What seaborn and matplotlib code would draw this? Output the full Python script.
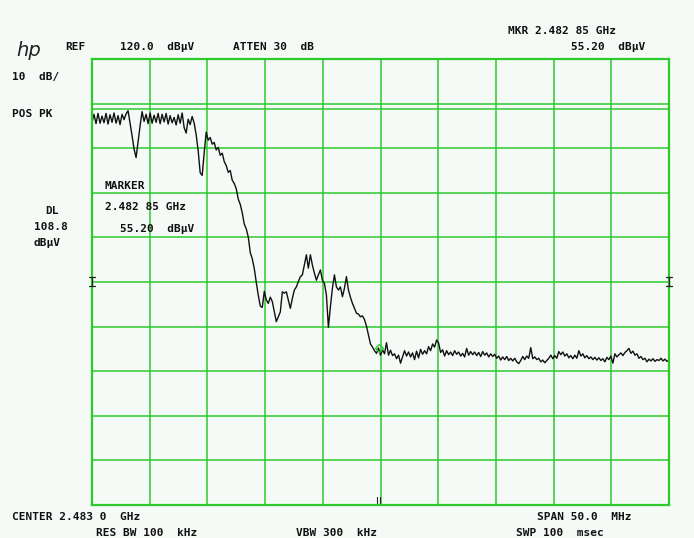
import numpy as np
import pandas as pd
import matplotlib
matplotlib.use("Agg")
import matplotlib.pyplot as plt
import matplotlib.transforms as mtransforms
import seaborn as sns

# ---- instrument settings ----
center_ghz = 2.4830
span_mhz = 50.0
ref_level = 120.0          # dBuV, top of screen
db_per_div = 10.0
display_line = 108.8       # dBuV
marker_freq_ghz = 2.48285
marker_level = 55.20

# ---- swept trace (dBuV), one value per sweep point ----
passband = [105.8, 107.6, 105.5, 107.8, 105.6, 107.2, 105.7, 107.8, 105.4, 107.5,
            105.8, 107.9, 105.6, 107.3, 105.3, 107.6, 106.4, 107.7, 108.4, 105.6,
            102.8, 99.8, 97.9, 101.5, 105.0, 108.2,
            106.0, 107.6, 105.5, 107.9, 105.6, 107.4, 105.8, 107.8, 105.5, 107.6,
            105.9, 107.8, 105.4, 107.3, 105.7, 106.9, 105.2, 107.5, 105.6, 107.9,
            104.6, 103.4, 106.5, 105.3, 107.1, 105.6,
            103.0, 99.4, 94.5, 93.9, 99.0, 103.6]
rolloff = [101.8, 102.4, 100.9, 101.3, 99.6, 100.2, 98.4, 98.9, 97.0, 96.1,
           94.6, 95.0, 92.8, 92.1, 90.9, 88.6, 87.4, 85.5, 83.0, 81.9,
           80.1, 76.6, 75.2, 73.0, 69.9, 67.0, 64.6, 64.3]
shoulder = [67.9, 66.0, 65.2, 66.6, 65.6, 63.3, 61.1, 62.2, 63.3, 67.8,
            67.5, 67.8, 66.0, 64.1, 66.3, 68.2, 68.9, 70.1, 71.2, 71.6,
            73.8, 76.1, 73.1, 76.1, 73.8, 72.0, 70.4, 71.6, 72.7, 70.4,
            69.7, 67.1, 59.8, 64.5, 68.6, 71.6, 68.9, 68.2, 68.9, 66.7,
            68.6, 71.2, 68.2, 66.6, 65.2, 64.1, 63.0, 62.8, 62.2, 62.4,
            61.6, 60.1, 58.1, 56.1, 55.4, 54.6, 54.0, 55.2, 53.6]
floor_low = [54.8, 53.9, 56.4, 53.6, 54.7, 53.5, 53.9, 52.8, 53.6, 51.8,
             53.2, 54.6, 53.4, 54.3, 53.2, 54.1, 52.6, 54.5, 53.0, 54.9,
             53.8, 54.6, 53.9, 55.5, 54.6, 56.1, 55.4, 57.0, 56.3, 54.2,
             54.8, 53.4, 54.6, 53.7, 54.3, 53.5, 54.6, 53.8, 54.3, 53.4,
             54.0, 53.2, 55.1, 53.6, 54.4, 53.7, 54.3, 53.5, 54.2, 53.3,
             54.4, 53.6, 54.1, 53.2, 53.9, 53.3, 53.8, 52.9, 53.4, 52.5,
             53.2, 52.6, 53.3, 52.4, 52.9, 52.3, 52.9]
floor_high = [52.1, 51.7, 52.4, 53.3, 52.6, 53.4, 52.9, 55.3, 52.8, 53.2,
              52.6, 52.9, 52.1, 52.5, 51.9, 52.4, 52.9, 53.6, 52.8, 53.5,
              52.9, 54.4, 53.7, 54.3, 53.4, 53.9, 53.0, 53.5, 52.8, 53.6,
              52.9, 54.6, 53.4, 53.9, 53.0, 53.5, 52.8, 53.2, 52.6, 53.1,
              52.5, 53.0, 52.4, 52.8, 52.1, 53.1, 52.6, 53.4, 51.8, 53.9,
              53.2, 53.7, 54.1, 53.5, 54.2, 54.6, 55.1, 54.0, 54.5, 53.6,
              53.9, 52.9, 53.3, 52.6, 52.9, 52.1, 52.7, 52.3, 52.8, 52.2,
              52.6, 52.4, 52.9, 52.3, 52.7, 52.2, 52.5]

trace = np.array(passband + rolloff + shoulder + floor_low + floor_high)
start_ghz = center_ghz - span_mhz / 2000.0
stop_ghz = center_ghz + span_mhz / 2000.0
freq_ghz = np.linspace(start_ghz, stop_ghz, len(trace))
df = pd.DataFrame({"freq": freq_ghz, "level": trace})

# ---- figure ----
W, H = 694, 538
GREEN = "#2ccb2c"
BG = "#f6faf6"

sns.set_style("white")
plt.rcParams["font.family"] = ["DejaVu Sans Mono", "DejaVu Sans"]

fig = plt.figure(figsize=(W / 100, H / 100), dpi=100, facecolor=BG)
ax = fig.add_axes([92 / W, 1 - 505 / H, 577 / W, 446 / H], facecolor=BG)

sns.lineplot(data=df, x="freq", y="level", ax=ax, color="#111111",
             linewidth=1.0, estimator=None, sort=False)

bottom = ref_level - 10 * db_per_div
ax.set_xlim(start_ghz, stop_ghz)
ax.set_ylim(bottom, ref_level)
ax.set_xticks(np.linspace(start_ghz, stop_ghz, 11))
ax.set_yticks(np.arange(bottom, ref_level + 1, db_per_div))
ax.tick_params(length=0, labelbottom=False, labelleft=False)
ax.set_xlabel("")
ax.set_ylabel("")
ax.grid(True, color=GREEN, linewidth=1.1)
ax.set_axisbelow(True)
for sp in ax.spines.values():
    sp.set_color(GREEN)
    sp.set_linewidth(1.6)

# display line
ax.axhline(display_line, color=GREEN, linewidth=1.1, zorder=1)

# marker
ax.plot([marker_freq_ghz], [marker_level], marker="D", ms=4, mfc="none",
        mec=GREEN, mew=1.0, zorder=5)

# threshold indicators on both screen edges and marker tick at bottom
blend = mtransforms.blended_transform_factory(ax.transAxes, ax.transData)
for xa in (0.0, 1.0):
    ax.plot([xa, xa], [69.0, 71.2], color="#222222", lw=0.9,
            transform=blend, clip_on=False, zorder=6)
    for yy in (69.0, 71.2):
        ax.plot([xa - 0.005, xa + 0.005], [yy, yy], color="#222222", lw=0.9,
                transform=blend, clip_on=False, zorder=6)
blend_x = mtransforms.blended_transform_factory(ax.transData, ax.transAxes)
for dx in (-0.00012, 0.00012):
    ax.plot([marker_freq_ghz + dx] * 2, [0.005, 0.018], color="#222222", lw=0.8,
            transform=blend_x, zorder=6)

# ---- annotation text ----
FS = 8.0
def label(x, y, s, **kw):
    fig.text(x / W, 1 - y / H, s, fontsize=FS, fontweight="bold",
             ha="left", va="center", color="#111111", **kw)

fig.text(29 / W, 1 - 50 / H, "hp", fontsize=14, fontstyle="italic",
         family="DejaVu Sans", fontweight="light", ha="center", va="center",
         color="#222222")
label(65, 47, "REF")
label(120, 47, "120.0  dB\u03bcV")
label(233, 47, "ATTEN 30  dB")
label(508, 31, "MKR 2.482 85 GHz")
label(571, 47, "55.20  dB\u03bcV")
label(12, 77, "10  dB/")
label(12, 114, "POS PK")
label(105, 186, "MARKER")
label(105, 207, "2.482 85 GHz")
label(120, 229, "55.20  dB\u03bcV")
label(45, 211, "DL")
label(34, 227, "108.8")
label(34, 243, "dB\u03bcV")
label(12, 517, "CENTER 2.483 0  GHz")
label(537, 517, "SPAN 50.0  MHz")
label(96, 533, "RES BW 100  kHz")
label(296, 533, "VBW 300  kHz")
label(516, 533, "SWP 100  msec")

fig.savefig("out.png", dpi=100, facecolor=BG)
